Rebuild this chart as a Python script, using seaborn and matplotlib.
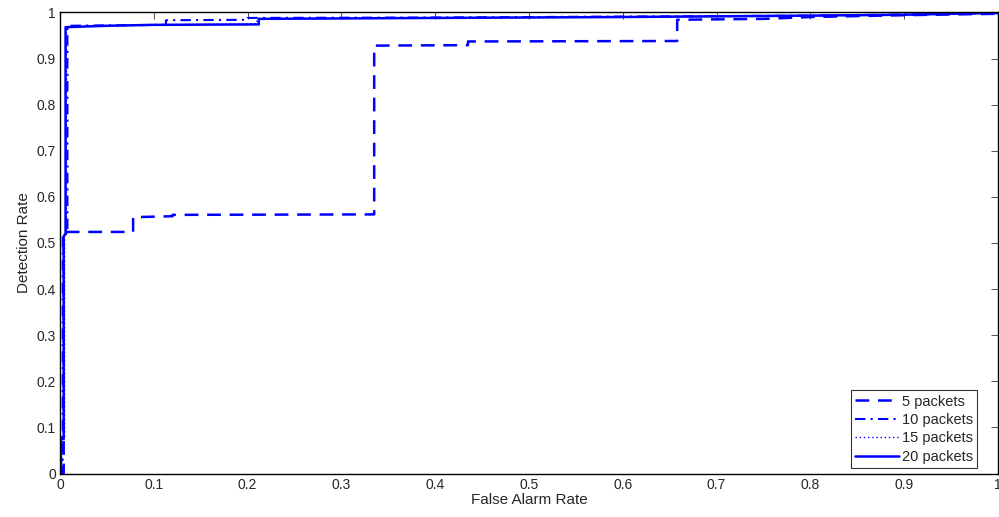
import pandas as pd
import seaborn as sns
from matplotlib import pyplot as plt

# ROC curve vertices (false alarm rate, detection rate)
fpr_5 = [0.0, 0.004, 0.004, 0.078, 0.078, 0.12, 0.12, 0.335, 0.335, 0.435, 0.435,
         0.658, 0.658, 0.75, 0.8, 0.9, 1.0]
tpr_5 = [0.0, 0.0, 0.524, 0.524, 0.556, 0.558, 0.561, 0.562, 0.928, 0.929, 0.937,
         0.938, 0.984, 0.986, 0.99, 0.994, 0.997]

fpr_10 = [0.0, 0.003, 0.003, 0.008, 0.008, 0.05, 0.113, 0.113, 0.2, 0.2, 0.4,
          0.6, 0.8, 1.0]
tpr_10 = [0.0, 0.0, 0.52, 0.52, 0.971, 0.972, 0.973, 0.983, 0.984, 0.988, 0.989,
          0.991, 0.993, 0.998]

fpr_15 = [0.0, 0.002, 0.002, 0.005, 0.005, 0.007, 0.007, 0.1, 0.21, 0.21, 0.5,
          0.8, 1.0]
tpr_15 = [0.0, 0.0, 0.08, 0.08, 0.52, 0.52, 0.969, 0.973, 0.975, 0.986, 0.989,
          0.993, 0.998]

fpr_20 = [0.0, 0.001, 0.001, 0.004, 0.004, 0.006, 0.006, 0.05, 0.1, 0.212,
          0.212, 0.4, 0.6, 0.8, 0.9, 1.0]
tpr_20 = [0.0, 0.0, 0.075, 0.075, 0.515, 0.52, 0.968, 0.971, 0.973, 0.974,
          0.986, 0.988, 0.99, 0.993, 0.995, 0.999]

tick_labels = ["0", "0.1", "0.2", "0.3", "0.4", "0.5", "0.6", "0.7", "0.8", "0.9", "1"]

series = [("5 packets", fpr_5, tpr_5, (0, (5.5, 3.5)), 1.8),
          ("10 packets", fpr_10, tpr_10, (0, (5, 2.5, 1, 2.5)), 1.5),
          ("15 packets", fpr_15, tpr_15, (0, (1, 2)), 1.0),
          ("20 packets", fpr_20, tpr_20, "-", 1.8)]

sns.set_style("white")
plt.rcParams['font.family'] = ['Liberation Sans', 'DejaVu Sans']

fig = plt.figure(figsize=(9.99, 5.17), dpi=100)
ax = fig.add_axes([0.060, 0.084, 0.939, 0.892])

for name, fx, fy, ls, lw in series:
    df = pd.DataFrame({"fpr": fx, "tpr": fy})
    sns.lineplot(data=df, x="fpr", y="tpr", sort=False, estimator=None,
                 color="#0000ff", linestyle=ls, linewidth=lw, label=name, ax=ax)

ax.set_xlim(0, 1)
ax.set_ylim(0, 1)
ticks = [i / 10 for i in range(11)]
ax.set_xticks(ticks)
ax.set_yticks(ticks)
ax.set_xticklabels(tick_labels)
ax.set_yticklabels(tick_labels)
ax.tick_params(direction="in", length=5, width=0.6, top=True, right=True,
               labelsize=10, pad=3, color="#333333")
for sp in ax.spines.values():
    sp.set_color("black")
    sp.set_linewidth(1.0)
ax.set_xlabel("False Alarm Rate", fontsize=11, labelpad=1)
ax.set_ylabel("Detection Rate", fontsize=11, labelpad=4)

leg = ax.legend(loc="lower right", fontsize=10.5, frameon=True, fancybox=False,
                edgecolor="black", handlelength=3.0, handletextpad=0.2,
                borderpad=0.3, labelspacing=0.3, borderaxespad=0.0,
                bbox_to_anchor=(0.978, 0.012))
leg.get_frame().set_linewidth(0.8)

fig.savefig("out.png", dpi=100)
